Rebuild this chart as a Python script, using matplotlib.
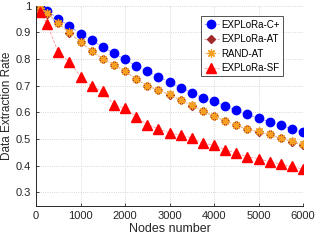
import matplotlib
matplotlib.use('Agg')
import matplotlib.pyplot as plt

plt.rcParams['font.family'] = ['Liberation Sans', 'DejaVu Sans']

# Data
nodes = [100, 250, 500, 750, 1000, 1250, 1500, 1750, 2000, 2250, 2500, 2750, 3000,
         3250, 3500, 3750, 4000, 4250, 4500, 4750, 5000, 5250, 5500, 5750, 6000]
explora_cp = [0.995, 0.979, 0.951, 0.922, 0.895, 0.870, 0.844, 0.821, 0.798, 0.773, 0.754, 0.733, 0.713,
              0.692, 0.673, 0.654, 0.641, 0.623, 0.607, 0.592, 0.577, 0.564, 0.554, 0.536, 0.525]
explora_at = [0.990, 0.970, 0.933, 0.898, 0.863, 0.829, 0.800, 0.778, 0.754, 0.725, 0.698, 0.683, 0.666,
              0.645, 0.625, 0.604, 0.585, 0.567, 0.551, 0.536, 0.527, 0.517, 0.502, 0.490, 0.479]
rand_at = [0.991, 0.971, 0.934, 0.899, 0.864, 0.830, 0.801, 0.779, 0.755, 0.726, 0.699, 0.684, 0.667,
           0.646, 0.626, 0.605, 0.586, 0.568, 0.552, 0.537, 0.528, 0.518, 0.503, 0.491, 0.480]
explora_sf = [0.975, 0.929, 0.825, 0.789, 0.734, 0.697, 0.679, 0.627, 0.615, 0.583, 0.554, 0.538, 0.523,
              0.514, 0.504, 0.483, 0.478, 0.460, 0.447, 0.433, 0.426, 0.415, 0.405, 0.398, 0.386]

fig = plt.figure(figsize=(3.16, 2.40), dpi=100)
ax = fig.add_axes([0.114, 0.143, 0.845, 0.834])

ax.plot(nodes, explora_cp, linestyle='--', color='#9999ff', linewidth=0.6,
        marker='o', markersize=6, markerfacecolor='#0000ff', markeredgecolor='#0000ff',
        label='EXPLoRa-C+')
ax.plot(nodes, explora_at, linestyle='--', color='#c99090', linewidth=0.6,
        marker='D', markersize=4.5, markerfacecolor='#a0292b', markeredgecolor='#a0292b',
        label='EXPLoRa-AT')
ax.plot(nodes, rand_at, linestyle='--', color='#f7cf9a', linewidth=0.6,
        marker=(8, 2, 0), markersize=6, markeredgewidth=0.9,
        markeredgecolor='#f5a020', label='RAND-AT')
ax.plot(nodes, explora_sf, linestyle='--', color='#ff9a9a', linewidth=0.6,
        marker='^', markersize=6.5, markerfacecolor='#ff0000', markeredgecolor='#ff0000',
        label='EXPLoRa-SF')

ax.set_xlim(0, 6000)
ax.set_ylim(0.25, 1.0)
ax.set_xticks([0, 1000, 2000, 3000, 4000, 5000, 6000])
ax.set_yticks([0.3, 0.4, 0.5, 0.6, 0.7, 0.8, 0.9, 1.0])
ax.set_yticklabels(['0.3', '0.4', '0.5', '0.6', '0.7', '0.8', '0.9', '1'])
ax.grid(True, linestyle=':', color='#cccccc', linewidth=0.6)
ax.tick_params(direction='in', labelsize=8, colors='#262626', length=2.5, width=0.6)
for s in ['top', 'right']:
    ax.spines[s].set_visible(False)
for s in ['left', 'bottom']:
    ax.spines[s].set_color('#262626')
    ax.spines[s].set_linewidth(0.7)

ax.set_xlabel('Nodes number', fontsize=9, color='#262626', labelpad=2)
ax.set_ylabel('Data Extraction Rate', fontsize=8.5, color='#262626', labelpad=2)

leg = ax.legend(loc='upper right', fontsize=7, frameon=True, fancybox=False,
                edgecolor='#262626', borderpad=0.35, labelspacing=0.45,
                handlelength=1.5, handletextpad=0.3, bbox_to_anchor=(0.945, 0.97))
leg.get_frame().set_linewidth(0.7)

plt.savefig('out.png', dpi=100)
